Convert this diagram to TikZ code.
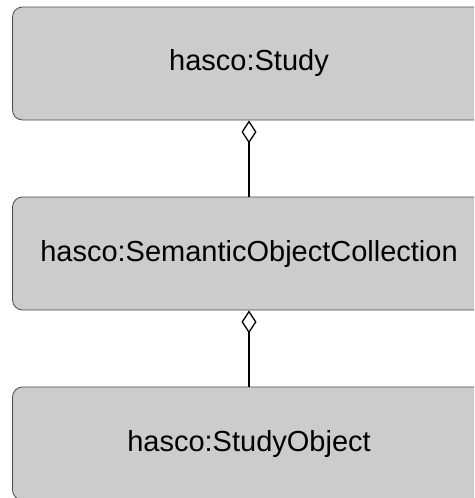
\documentclass[tikz,border=0pt]{standalone}
\usepackage{fontspec}
\setmainfont{Liberation Sans}
\usetikzlibrary{arrows.meta}
\tikzset{
  classbox/.style={draw=black!70,fill=black!20,line width=0.8pt,rounded corners=10pt,
    minimum width=473pt,minimum height=113pt,font=\fontsize{29}{34}\selectfont},
  aggr/.style={line width=1.3pt,{Diamond[open,length=23pt,width=15pt]}-}
}
\begin{document}
\begin{tikzpicture}[x=1pt,y=-1pt,line join=round]
	\useasboundingbox (0,0) rectangle (474,498);
	\clip (0,0) rectangle (474,498);
	\node[classbox] (study) at (249,63.5) {hasco:Study};
	\node[classbox] (collection) at (249,253.5) {hasco:SemanticObjectCollection};
	\node[classbox] (object) at (249,443.5) {hasco:StudyObject};
	\draw[aggr] (study.south)--(collection.north);
	\draw[aggr] (collection.south)--(object.north);
\end{tikzpicture}
\end{document}
